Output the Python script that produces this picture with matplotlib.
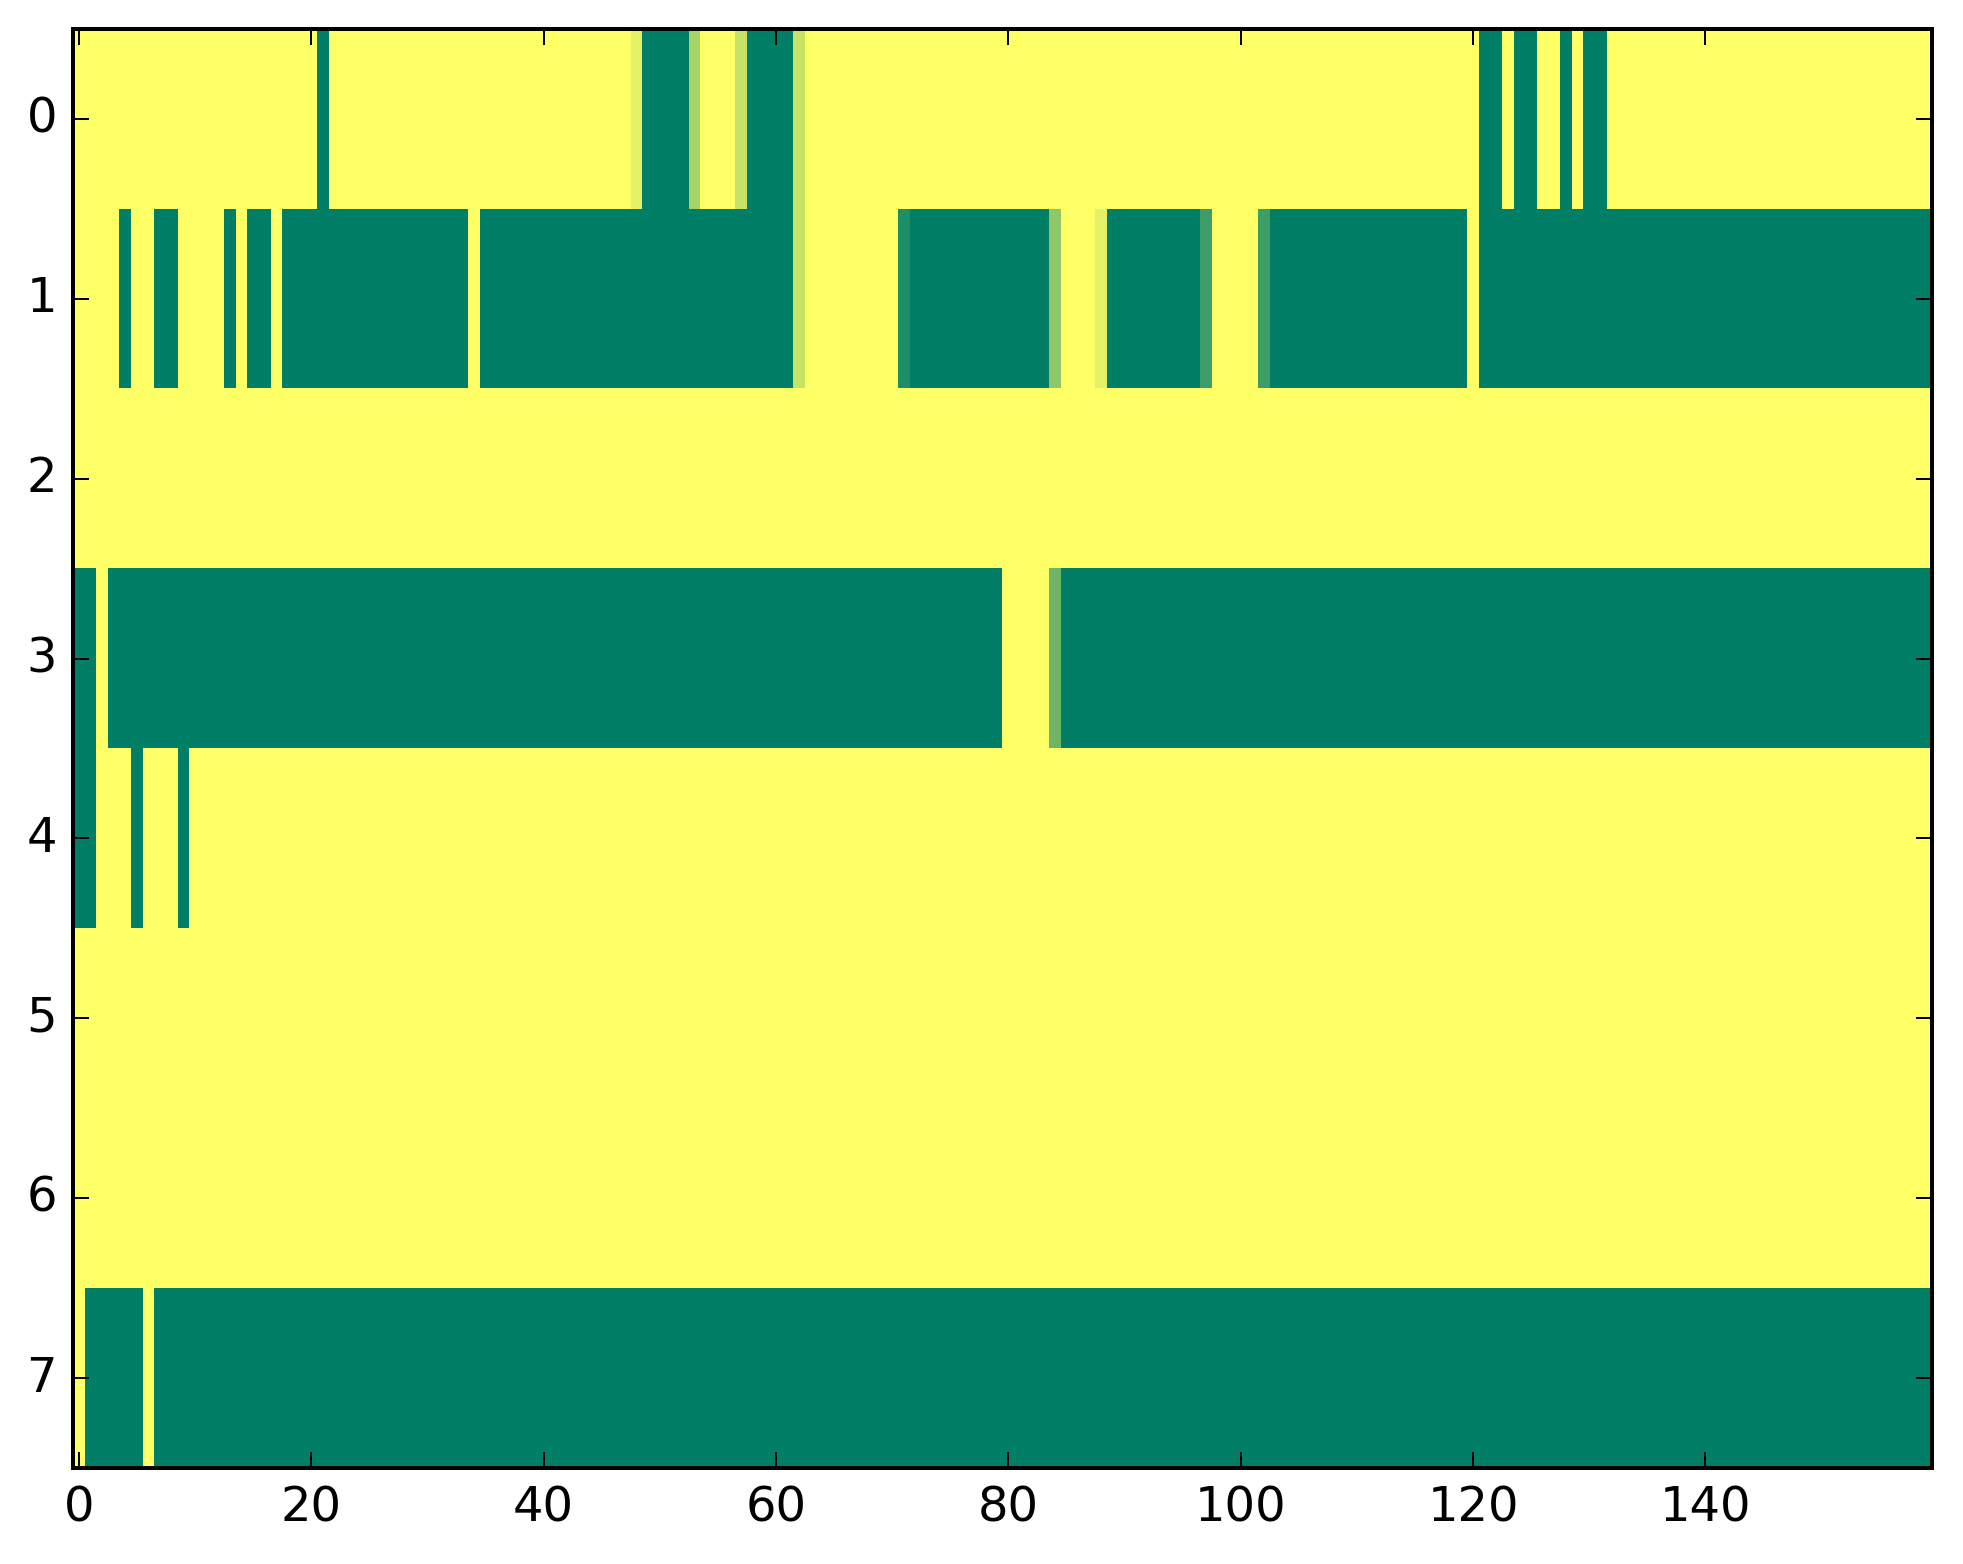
import matplotlib
matplotlib.use("Agg")
import matplotlib.pyplot as plt
import numpy as np

plt.style.use("classic")
plt.rcParams["font.family"] = ["DejaVu Sans"]

# level codes: '1' = high (yellow), '0' = low (green), letters = intermediate values
levels = {"0": 0.0, "1": 1.0, "a": 0.89, "b": 0.66, "c": 0.78,
          "d": 0.12, "e": 0.56, "f": 0.24, "g": 0.43}

row0 = ("1111111111 1111111111 1011111111 1111111111 11111111a0 000b111c00 00c1111111 1111111111 "
        "1111111111 1111111111 1111111111 1111111111 1001001101 0011111111 1111111111 1111111111")
row1 = ("1111011001 1110100100 0000000000 0000100000 0000000000 0000000000 00c1111111 1d00000000 "
        "0000e111a0 0000000f11 11f0000000 0000000000 1000000000 0000000000 0000000000 0000000000")
row2 = ("1111111111 1111111111 1111111111 1111111111 1111111111 1111111111 1111111111 1111111111 "
        "1111111111 1111111111 1111111111 1111111111 1111111111 1111111111 1111111111 1111111111")
row3 = ("0010000000 0000000000 0000000000 0000000000 0000000000 0000000000 0000000000 0000000000 "
        "1111g00000 0000000000 0000000000 0000000000 0000000000 0000000000 0000000000 0000000000")
row4 = ("0011101110 1111111111 1111111111 1111111111 1111111111 1111111111 1111111111 1111111111 "
        "1111111111 1111111111 1111111111 1111111111 1111111111 1111111111 1111111111 1111111111")
row5 = ("1111111111 1111111111 1111111111 1111111111 1111111111 1111111111 1111111111 1111111111 "
        "1111111111 1111111111 1111111111 1111111111 1111111111 1111111111 1111111111 1111111111")
row6 = ("1111111111 1111111111 1111111111 1111111111 1111111111 1111111111 1111111111 1111111111 "
        "1111111111 1111111111 1111111111 1111111111 1111111111 1111111111 1111111111 1111111111")
row7 = ("1000001000 0000000000 0000000000 0000000000 0000000000 0000000000 0000000000 0000000000 "
        "0000000000 0000000000 0000000000 0000000000 0000000000 0000000000 0000000000 0000000000")

rows = [row0, row1, row2, row3, row4, row5, row6, row7]
xticks = [0, 20, 40, 60, 80, 100, 120, 140]
yticks = [0, 1, 2, 3, 4, 5, 6, 7]

data = np.array([[levels[ch] for ch in r.replace(" ", "")] for r in rows])

W, H, DPI = 1963, 1564, 288
fig = plt.figure(figsize=(W / DPI, H / DPI), dpi=DPI, facecolor="white")
ax = fig.add_axes([73 / W, 1 - 1468 / H, (1932 - 73) / W, (1468 - 29) / H])
ax.imshow(data, cmap="summer", aspect="auto", interpolation="nearest", vmin=0, vmax=1)
ax.set_xticks(xticks)
ax.set_yticks(yticks)
ax.tick_params(labelsize=12)
fig.savefig("out.png", dpi=DPI, facecolor="white")
